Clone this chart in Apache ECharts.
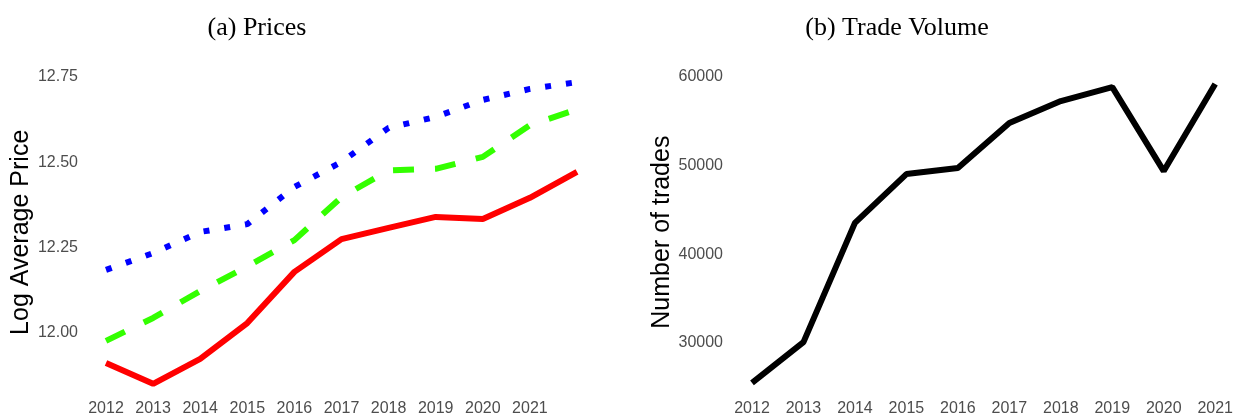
<!DOCTYPE html>
<html>
<head>
<meta charset="utf-8">
<script src="https://cdn.jsdelivr.net/npm/echarts@6/dist/echarts.min.js"></script>
<style>
  html, body { margin: 0; padding: 0; background: #ffffff; }
  #chart { width: 1236px; height: 417px; }
</style>
</head>
<body>
<div id="chart"></div>
<script>
// ---- data ----
const priceYears = ['2012','2013','2014','2015','2016','2017','2018','2019','2020','2021','2022'];
const priceXTickLabels = ['2012','2013','2014','2015','2016','2017','2018','2019','2020','2021'];
const priceYTickValues = [12.00, 12.25, 12.50, 12.75];
const redPrice   = [11.912, 11.851, 11.924, 12.029, 12.179, 12.275, 12.308, 12.340, 12.334, 12.396, 12.472];
const greenPrice = [11.977, 12.044, 12.123, 12.195, 12.272, 12.398, 12.476, 12.481, 12.516, 12.609, 12.655];
const bluePrice  = [12.185, 12.234, 12.296, 12.319, 12.428, 12.501, 12.601, 12.633, 12.683, 12.715, 12.735];

const volumeYears = ['2012','2013','2014','2015','2016','2017','2018','2019','2020','2021'];
const volumeYTickValues = [30000, 40000, 50000, 60000];
const trades = [25500, 30100, 43550, 49050, 49730, 54800, 57280, 58860, 49390, 59200];

const titleLeft = '(a) Prices';
const titleRight = '(b) Trade Volume';
const yNameLeft = 'Log Average Price';
const yNameRight = 'Number of trades';

// ---- chart ----
const chart = echarts.init(document.getElementById('chart'), null, { renderer: 'canvas' });
const labelStyle = { color: '#4d4d4d', fontFamily: 'Liberation Sans, Arial, sans-serif', fontSize: 16 };
const nameStyle = { color: '#000000', fontFamily: 'Liberation Sans, Arial, sans-serif', fontSize: 25 };

const option = {
  backgroundColor: '#ffffff',
  animation: false,
  graphic: [
    { type: 'text', x: 257, y: 28, style: { text: titleLeft, fill: '#000', font: '26px "Liberation Serif", serif', textAlign: 'center', textVerticalAlign: 'middle' } },
    { type: 'text', x: 897, y: 28, style: { text: titleRight, fill: '#000', font: '26px "Liberation Serif", serif', textAlign: 'center', textVerticalAlign: 'middle' } }
  ],
  grid: [
    { left: 106, right: 659, top: 77, bottom: 29.4 },
    { left: 752, right: 19, top: 77, bottom: 29.7 }
  ],
  xAxis: [
    {
      gridIndex: 0, type: 'category', data: priceYears, boundaryGap: false,
      axisLine: { show: false }, axisTick: { show: false }, splitLine: { show: false },
      axisLabel: Object.assign({ margin: 13, interval: 0,
        formatter: v => priceXTickLabels.indexOf(v) >= 0 ? v : '' }, labelStyle)
    },
    {
      gridIndex: 1, type: 'category', data: volumeYears, boundaryGap: false,
      axisLine: { show: false }, axisTick: { show: false }, splitLine: { show: false },
      axisLabel: Object.assign({ margin: 13, interval: 0 }, labelStyle)
    }
  ],
  yAxis: [
    {
      gridIndex: 0, type: 'value', min: 11.84, max: 12.75,
      axisLine: { show: false }, axisTick: { show: false }, splitLine: { show: false },
      axisLabel: Object.assign({ margin: 28, customValues: priceYTickValues,
        formatter: v => v.toFixed(2) }, labelStyle),
      name: yNameLeft, nameLocation: 'middle', nameRotate: 90, nameGap: 70,
      nameTextStyle: nameStyle
    },
    {
      gridIndex: 1, type: 'value', min: 25000, max: 60000,
      axisLine: { show: false }, axisTick: { show: false }, splitLine: { show: false },
      axisLabel: Object.assign({ margin: 29, customValues: volumeYTickValues,
        formatter: v => String(v) }, labelStyle),
      name: yNameRight, nameLocation: 'middle', nameRotate: 90, nameGap: 73,
      nameTextStyle: nameStyle
    }
  ],
  series: [
    { type: 'line', xAxisIndex: 0, yAxisIndex: 0, data: bluePrice, symbol: 'none',
      lineStyle: { color: '#0000ff', width: 6, type: [6, 15], cap: 'butt' } },
    { type: 'line', xAxisIndex: 0, yAxisIndex: 0, data: greenPrice, symbol: 'none',
      lineStyle: { color: '#33ff00', width: 6, type: [21, 21], cap: 'butt' } },
    { type: 'line', xAxisIndex: 0, yAxisIndex: 0, data: redPrice, symbol: 'none',
      lineStyle: { color: '#ff0000', width: 6 } },
    { type: 'line', xAxisIndex: 1, yAxisIndex: 1, data: trades, symbol: 'none',
      lineStyle: { color: '#000000', width: 6 } }
  ]
};
chart.setOption(option);
</script>
</body>
</html>
